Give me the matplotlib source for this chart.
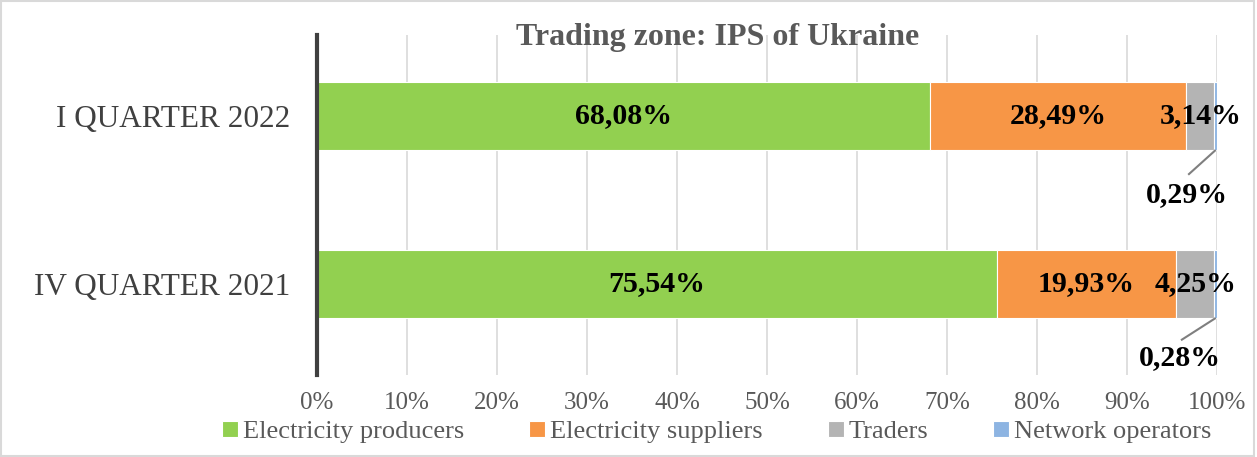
import matplotlib
matplotlib.use("Agg")
import matplotlib.pyplot as plt
from matplotlib.patches import Rectangle
import numpy as np

plt.rcParams['font.family'] = ['Liberation Serif', 'DejaVu Serif']

quarters = ['IV QUARTER 2021', 'I QUARTER 2022']
series = ['Electricity producers', 'Electricity suppliers', 'Traders', 'Network operators']
producers = [75.54, 68.08]
suppliers = [19.93, 28.49]
traders = [4.25, 3.14]
network = [0.28, 0.29]
colors = ['#92D050', '#F79646', '#B4B4B4', '#8DB4E2']

fig = plt.figure(figsize=(12.57, 4.57), dpi=100)
ax = fig.add_axes([317 / 1257, 1 - 375 / 457, 900 / 1257, 340 / 457])

bar_h = 0.405
y = np.arange(len(quarters))
left = np.zeros(len(quarters))
for name, vals, c in zip(series, [producers, suppliers, traders, network], colors):
    ax.barh(y, vals, left=left, height=bar_h, color=c, edgecolor='white',
            linewidth=0.8, label=name, zorder=3)
    left += np.array(vals)

def fmt(v):
    return f"{v:.2f}".replace('.', ',') + '%'

# labels inside bars
for i in range(len(quarters)):
    x0 = 0
    for vals in [producers, suppliers, traders]:
        ax.text(x0 + vals[i] / 2, y[i], fmt(vals[i]), ha='center', va='center',
                fontsize=21.5, fontweight='bold', color='black', zorder=5)
        x0 += vals[i]

# network operators: leader line + label under the bar
lead = [(96.8, 0.35, 96.7, 0.465), (96.0, 0.335, 95.9, 0.44)]
for i, (lx, ly, tx, ty) in zip([1, 0], lead):
    ax.plot([100 - network[i] / 2, lx], [y[i] - bar_h / 2, y[i] - ly],
            color='#7f7f7f', lw=1.5, zorder=5, solid_capstyle='butt')
    ax.text(tx, y[i] - ty, fmt(network[i]), ha='center', va='center',
            fontsize=21.5, fontweight='bold', color='black', zorder=5)

ax.set_xlim(0, 100)
ax.set_ylim(-0.542, 1.482)
ax.set_xticks(np.arange(0, 101, 10))
ax.set_xticklabels([f"{t}%" for t in range(0, 101, 10)], fontsize=18, color='#595959')
ax.set_yticks(y)
ax.set_yticklabels(quarters, fontsize=22.5, color='#404040')
ax.tick_params(length=0)
ax.tick_params(axis='x', pad=12)
ax.tick_params(axis='y', pad=19)
ax.grid(axis='x', color='#D9D9D9', linewidth=1.2, zorder=0)
for s in ['top', 'right', 'bottom']:
    ax.spines[s].set_visible(False)
ax.spines['left'].set_color('#404040')
ax.spines['left'].set_linewidth(3)
ax.spines['left'].set_zorder(4)

fig.text(718 / 1257, 1 - 37 / 457, 'Trading zone: IPS of Ukraine', ha='center', va='center',
         fontsize=23, fontweight='bold', color='#595959')

handles, labels = ax.get_legend_handles_labels()
fig.legend(handles, labels, loc='center', bbox_to_anchor=(717 / 1257, 1 - 432 / 457),
           ncol=4, frameon=False, fontsize=19, handlelength=0.6, handleheight=0.6,
           handletextpad=0.2, columnspacing=2.45, labelcolor='#595959')

fig.patches.append(Rectangle((0.001, 0.002), 0.997, 0.995, transform=fig.transFigure,
                             fill=False, edgecolor='#D9D9D9', linewidth=1.5))

fig.savefig('out.png', dpi=100)
